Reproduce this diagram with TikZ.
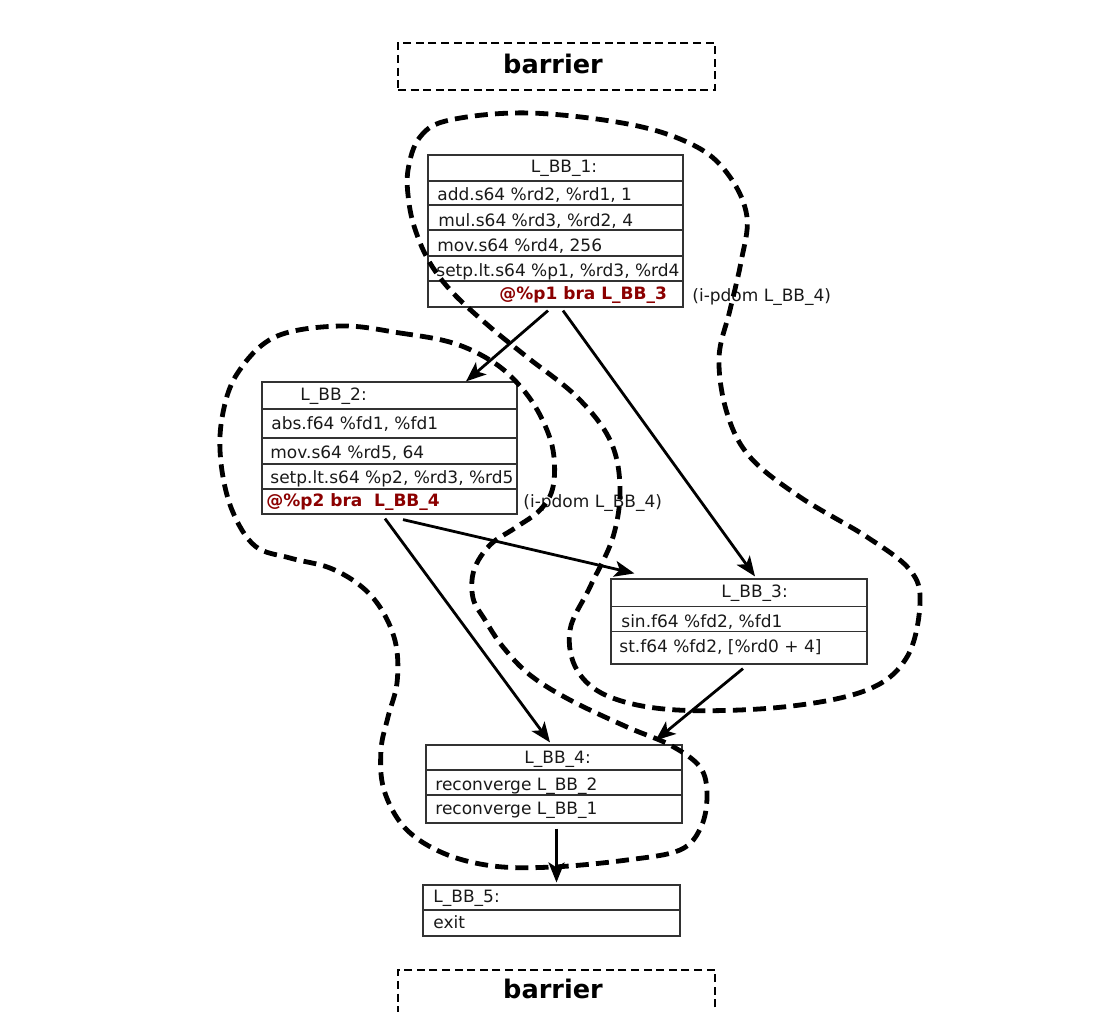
\documentclass[tikz,border=0pt]{standalone}
\usepackage{fontspec}
\setmainfont{DejaVu Sans}
\usetikzlibrary{arrows.meta,calc,fit}

\definecolor{brared}{RGB}{139,0,0}
\definecolor{boxline}{RGB}{50,50,50}

\tikzset{
  blockbox/.style={draw=boxline, line width=0.6pt, inner sep=0pt, rectangle},
  rowline/.style={draw=boxline, line width=0.6pt},
  code/.style={inner sep=0pt, anchor=base west, font=\fontsize{8.5pt}{10pt}\selectfont, text=black!90},
  hdr/.style={code},
  branch/.style={code, text=brared, font=\fontsize{8.5pt}{10pt}\selectfont\bfseries},
  note/.style={code},
  barrierbox/.style={draw, line width=1pt, dash pattern=on 4pt off 2.3pt, inner sep=0pt, rectangle},
  barriertxt/.style={inner sep=0pt, anchor=base, font=\fontsize{12.8pt}{14pt}\selectfont\bfseries},
  flow/.style={line width=1.4pt, -{Stealth[length=10pt,width=8pt,inset=2.5pt]}},
  region/.style={line width=2.4pt, dash pattern=on 6.5pt off 3.6pt}
}

\begin{document}
\begin{tikzpicture}[x=0.5pt, y=-0.5pt]
\useasboundingbox (0,0) rectangle (1094,1012);
\clip (0,0) rectangle (1094,1012);

% barriers
\node[barrierbox, fit={(398,43) (715,90)}] (bartop) {};
\node[barriertxt] (bartoptxt) at (553,73) {barrier};
\node[barrierbox, fit={(398,970) (715,1018)}] (barbot) {};
\node[barriertxt] (barbottxt) at (553,998) {barrier};

% L_BB_1
\node[blockbox, fit={(428,155) (683,307)}] (b1) {};
\foreach \yy in {181,205,230,256,281} \draw[rowline] (b1.west |- 0,\yy) -- (b1.east |- 0,\yy);
\node[hdr, anchor=base] (b1h) at (564,172) {L\_BB\_1:};
\node[code] (b1r1) at (437,200) {add.s64 \%rd2, \%rd1, 1};
\node[code] (b1r2) at (438,226) {mul.s64 \%rd3, \%rd2, 4};
\node[code] (b1r3) at (437,251) {mov.s64 \%rd4, 256};
\node[code] (b1r4) at (436,276) {setp.lt.s64 \%p1, \%rd3, \%rd4};
\node[branch] (b1r5) at (499,299) {@\%p1 bra L\_BB\_3};
\node[note] (b1n) at (692,301) {(i-pdom L\_BB\_4)};

% L_BB_2
\node[blockbox, fit={(262,382) (517,514)}] (b2) {};
\foreach \yy in {409,438,464,489} \draw[rowline] (b2.west |- 0,\yy) -- (b2.east |- 0,\yy);
\node[hdr] (b2h) at (300,400) {L\_BB\_2:};
\node[code] (b2r1) at (271,429) {abs.f64 \%fd1, \%fd1};
\node[code] (b2r2) at (270,458) {mov.s64 \%rd5, 64};
\node[code] (b2r3) at (270,483) {setp.lt.s64 \%p2, \%rd3, \%rd5};
\node[branch] (b2r4) at (266,506) {@\%p2 bra\ \ L\_BB\_4};
\node[note] (b2n) at (523,507) {(i-pdom L\_BB\_4)};

% L_BB_3
\node[blockbox, fit={(611,579) (867,664)}] (b3) {};
\foreach \yy in {606.5,631.5} \draw[rowline] (b3.west |- 0,\yy) -- (b3.east |- 0,\yy);
\node[hdr] (b3h) at (721,597) {L\_BB\_3:};
\node[code] (b3r1) at (621,627) {sin.f64 \%fd2, \%fd1};
\node[code] (b3r2) at (619,652) {st.f64 \%fd2, [\%rd0 + 4]};

% L_BB_4
\node[blockbox, fit={(426,745) (682,823)}] (b4) {};
\foreach \yy in {770,795} \draw[rowline] (b4.west |- 0,\yy) -- (b4.east |- 0,\yy);
\node[hdr] (b4h) at (524,763) {L\_BB\_4:};
\node[code] (b4r1) at (435,790) {reconverge L\_BB\_2};
\node[code] (b4r2) at (435,814) {reconverge L\_BB\_1};

% L_BB_5
\node[blockbox, fit={(423,885) (680,936)}] (b5) {};
\draw[rowline] (b5.west |- 0,910) -- (b5.east |- 0,910);
\node[hdr] (b5h) at (433,902) {L\_BB\_5:};
\node[code] (b5r1) at (433,928) {exit};

% control flow edges
\draw[flow] ($(b1.south)+(-7.5,3)$) -- ($(b2.north)+(76.5,0)$);
\draw[flow] ($(b1.south)+(7.5,3)$) -- ($(b3.north)+(16,-2)$);
\draw[flow] ($(b2.south)+(13.5,5)$) -- ($(b3.north west)+(24,-5)$);
\draw[flow] ($(b2.south)+(-4.5,4)$) -- ($(b4.north)+(-4,-2)$);
\draw[flow] ($(b3.south)+(4,4)$) -- ($(b4.north east)+(-27,-4)$);
\draw[flow] ($(b4.south)+(2.5,5)$) -- ($(b5.north)+(5,-2)$);

% divergence regions
\draw[region] plot[smooth cycle, tension=0.6] coordinates {
  (408,170) (420,137) (450,120) (530,113) (633,125) (697,147) (730,177)
  (747,217) (741,262) (730,310) (719,358) (727,413) (750,457) (800,497)
  (867,537) (910,570) (920,603) (907,657) (867,690) (783,707) (677,710)
  (610,697) (577,670) (570,630) (590,587) (613,537) (620,487) (610,440)
  (577,397) (527,357) (490,327) (453,293) (430,263) (416,232) (409,203)};

\draw[region] plot[smooth cycle, tension=0.6] coordinates {
  (340,326) (400,333) (453,343) (493,362) (520,386) (540,415) (553,450)
  (553,487) (540,510) (515,528) (490,545) (474,570) (473,598) (485,620)
  (503,647) (530,675) (570,700) (627,727) (670,745) (700,767) (707,795)
  (701,827) (680,850) (627,860) (553,867) (493,866) (443,853) (405,828)
  (384,790) (381,750) (388,717) (397,683) (396,645) (383,612) (362,587)
  (330,568) (290,558) (255,546) (232,510) (221,463) (222,418) (237,374)
  (275,337)};
\end{tikzpicture}
\end{document}
